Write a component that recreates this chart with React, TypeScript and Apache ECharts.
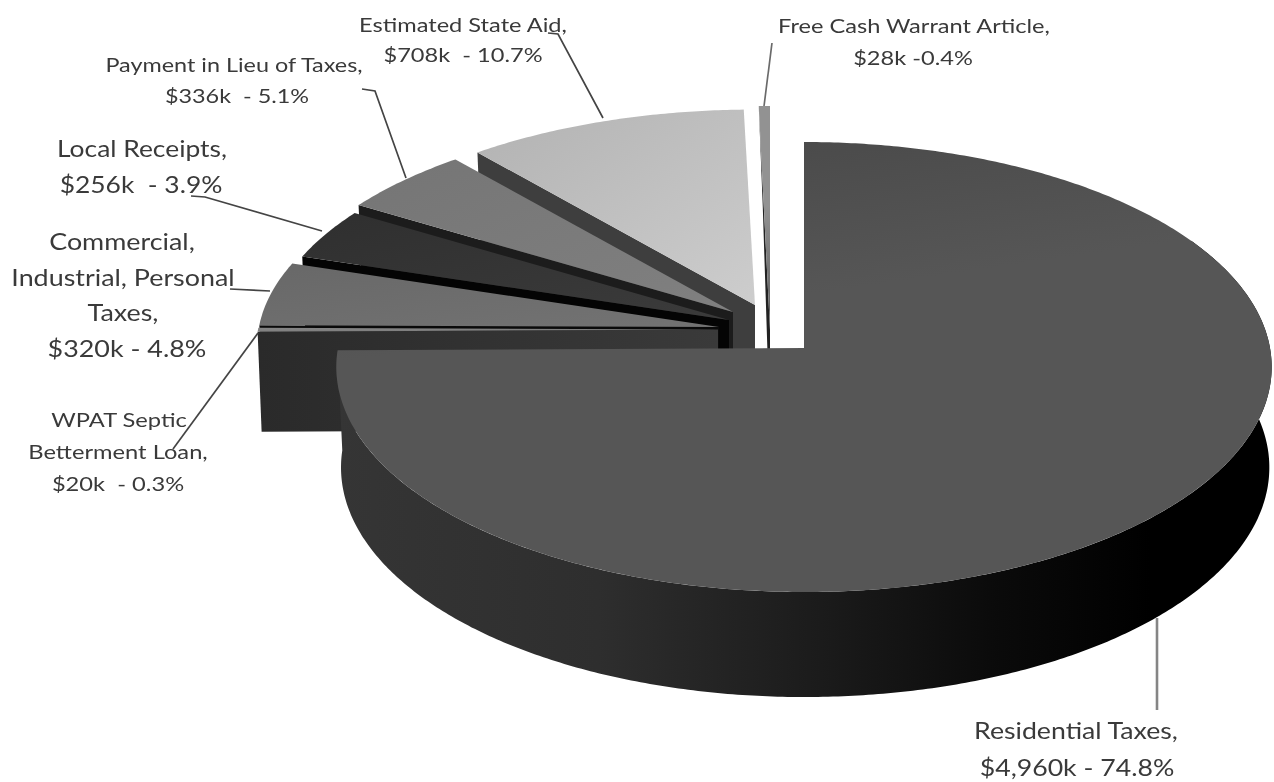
import React, { useEffect, useRef } from "react";
import * as echarts from "echarts";

const categories = [
  "Residential Taxes",
  "WPAT Septic Betterment Loan",
  "Commercial, Industrial, Personal Taxes",
  "Local Receipts",
  "Payment in Lieu of Taxes",
  "Estimated State Aid",
  "Free Cash Warrant Article",
];
const valuesK = [4960, 20, 320, 256, 336, 708, 28];
const labelLines = [
  ["Residential Taxes,", "$4,960k - 74.8%"],
  ["WPAT Septic", "Betterment Loan,", "$20k  - 0.3%"],
  ["Commercial,", "Industrial, Personal", "Taxes,", "$320k - 4.8%"],
  ["Local Receipts,", "$256k  - 3.9%"],
  ["Payment in Lieu of Taxes,", "$336k  - 5.1%"],
  ["Estimated State Aid,", "$708k  - 10.7%"],
  ["Free Cash Warrant Article,", "$28k -0.4%"],
];

// layout and styling, per slice
const apexes = [[804, 348], [718, 329.5], [719, 327], [729, 320], [733, 312], [755, 305], [770, 330]];
const radiiX = [466, 460, 460, 460, 460, 460, 460];
const radiiY = [223.4, 212, 212, 212, 212, 212, 243];
const faceFills = [
  ["#464646", "#565656"], ["#858585", "#7a7a7a"], ["#686868", "#737373"], ["#2f2f2f", "#3b3b3b"],
  ["#757575", "#808080"], ["#b2b2b2", "#cdcdcd"], ["#929292", "#5a5a5a"],
];
const wallFills = ["#333333", "#2f2f2f", "#0a0a0a", "#040404", "#1c1c1c", "#3e3e3e", "#222222"];
const paintOrder = [6, 5, 4, 3, 2, 1, 0];
const labelAnchors = [
  { xs: [1076, 1077], y: 730, lh: 37, size: 23, sx: 1.16 },
  { xs: [119, 118, 118], y: 419, lh: 32, size: 20, sx: 1.185 },
  { xs: [122, 123, 123, 127], y: 241, lh: 35.5, size: 24, sx: 1.12 },
  { xs: [142, 141], y: 147, lh: 36, size: 24, sx: 1.1 },
  { xs: [234, 237], y: 65, lh: 31, size: 20, sx: 1.17 },
  { xs: [463, 463], y: 24, lh: 30, size: 20, sx: 1.18 },
  { xs: [914, 913], y: 25, lh: 32, size: 20, sx: 1.18 },
];
const leaderLines = [
  [[1157, 618], [1157, 710]],
  [[258, 333], [173, 449]],
  [[270, 291], [230, 289]],
  [[322, 231], [205, 197], [191, 196]],
  [[406, 178], [375, 91], [362, 89]],
  [[603, 118], [558, 34], [548, 33]],
  [[764, 106], [772, 43]],
];

const PERSPECTIVE = 0.0845;
const total = valuesK.reduce((a, b) => a + b, 0);
const startAngles: number[] = [];
valuesK.reduce((acc, v, i) => {
  startAngles[i] = acc;
  return acc + (v / total) * Math.PI * 2;
}, 0);

function rim(i: number, theta: number, depth = 0): number[] {
  const u = Math.sin(theta);
  const v = Math.cos(theta);
  const w = 1 + PERSPECTIVE * v;
  const shrink = depth ? (u < 0 ? 0.99 : 0.995) : 1;
  const d = depth ? depth - 5 * v : 0;
  return [
    apexes[i][0] + (radiiX[i] * shrink * u) / w,
    apexes[i][1] - (radiiY[i] * v) / w + d,
  ];
}

function arcPoints(i: number, from: number, to: number, depth = 0): number[][] {
  const n = Math.max(2, Math.ceil(Math.abs(to - from) / 0.01));
  const pts: number[][] = [];
  for (let k = 0; k <= n; k++) pts.push(rim(i, from + ((to - from) * k) / n, depth));
  return pts;
}

function grad(x2: number, y2: number, stops: [number, string][]) {
  return {
    type: "linear",
    x: 0,
    y: 0,
    x2,
    y2,
    colorStops: stops.map(([offset, color]) => ({ offset, color })),
  };
}

function renderSlice(_params: any, api: any) {
  const value = api.value(0) as number;
  const i = api.value(1) as number;
  const a0 = startAngles[i];
  const a1 = a0 + (value / total) * Math.PI * 2;
  const apex = apexes[i];
  const children: any[] = [];
  const DEPTH = 100;

  if (i === 0) {
    const top = arcPoints(0, a1, Math.PI / 3);
    const bottom = arcPoints(0, Math.PI / 3, a1, DEPTH);
    children.push({
      type: "polygon",
      shape: { points: [...top, ...bottom] },
      style: {
        fill: grad(1, 0, [
          [0, "#353535"],
          [0.28, "#2e2e2e"],
          [0.53, "#1a1a1a"],
          [0.71, "#0a0a0a"],
          [0.87, "#000000"],
          [1, "#000000"],
        ]),
      },
    });
  } else {
    const s = rim(i, a0);
    const sb = [s[0] + 4, s[1] + DEPTH];
    const wallFill =
      i === 1
        ? grad(1, 0, [
            [0, "#2a2a2a"],
            [1, "#3a3a3a"],
          ])
        : wallFills[i];
    children.push({
      type: "polygon",
      shape: { points: [s, apex, [apex[0], apex[1] + DEPTH], sb] },
      style: { fill: wallFill },
    });
  }
  children.push({
    type: "polygon",
    shape: { points: [apex, ...arcPoints(i, a0, a1)] },
    style: {
      fill: i === 6
        ? grad(0, 1, [
            [0, faceFills[i][0]],
            [0.45, faceFills[i][0]],
            [1, faceFills[i][1]],
          ])
        : grad(i === 0 ? 0.3 : 1, 1, [
            [0, faceFills[i][0]],
            [i === 0 ? 0.45 : 1, faceFills[i][1]],
            [1, faceFills[i][1]],
          ]),
    },
  });
  return { type: "group", children };
}

export default function App() {
  const ref = useRef<HTMLDivElement>(null);
  useEffect(() => {
    if (!ref.current) return;
    const chart = echarts.init(ref.current, undefined, { renderer: "svg" });
    const graphics: any[] = [];
    leaderLines.forEach((points, i) => {
      graphics.push({
        type: "polyline",
        shape: { points },
        z: 10,
        style: {
          fill: "none",
          stroke: i === 0 ? "#858585" : i === 6 ? "#6a6a6a" : "#444444",
          lineWidth: i === 0 ? 2.6 : 1.7,
        },
      });
    });
    labelLines.forEach((lines, i) => {
      const a = labelAnchors[i];
      lines.forEach((text, k) => {
        graphics.push({
          type: "text",
          x: a.xs[k],
          y: a.y + k * a.lh,
          scaleX: a.sx,
          z: 11,
          style: {
            text,
            fill: "#3a3a3a",
            font: `${a.size}px Lato, "Open Sans", sans-serif`,
            textAlign: "center",
            textVerticalAlign: "middle",
          },
        });
      });
    });
    chart.setOption({
      animation: false,
      backgroundColor: "#ffffff",
      graphic: graphics,
      series: [
        {
          type: "custom",
          coordinateSystem: "none",
          silent: true,
          clip: false,
          renderItem: renderSlice,
          encode: { value: 0 },
          data: paintOrder.map((i) => ({ name: categories[i], value: [valuesK[i], i] })),
        },
      ],
    });
    return () => chart.dispose();
  }, []);
  return (
    <div
      ref={ref}
      style={{ position: "absolute", left: 0, top: 0, width: 1274, height: 782, filter: "blur(0.6px)" }}
    />
  );
}
